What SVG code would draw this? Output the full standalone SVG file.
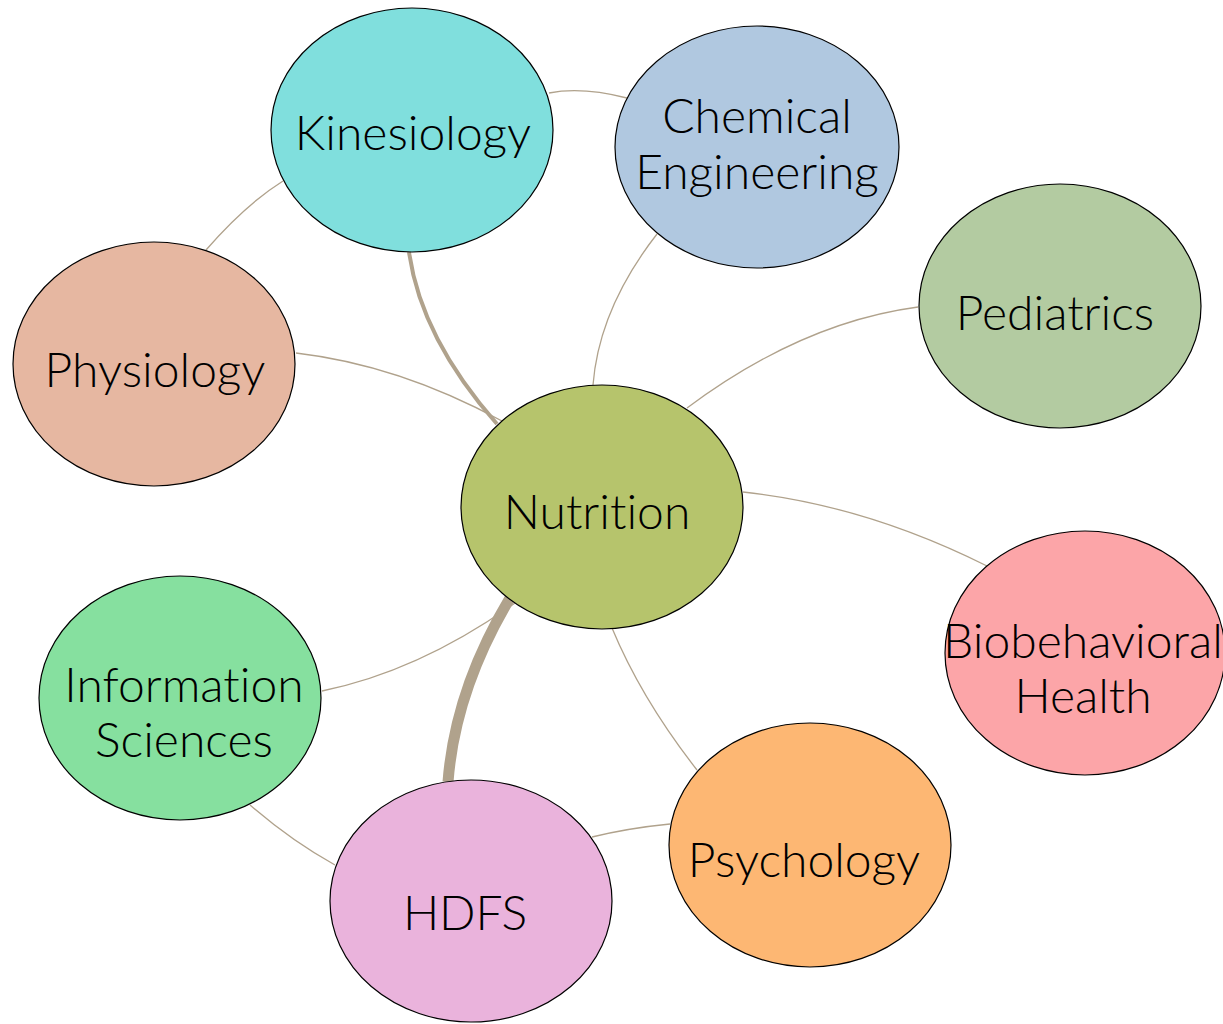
<svg xmlns="http://www.w3.org/2000/svg" width="1223" height="1024" viewBox="0 0 1223 1024">
<style>
.e{stroke:#000;stroke-width:1.2}
.t{font-family:Lato,"Noto Sans",sans-serif;font-size:48px;font-weight:300;fill:#000;text-anchor:middle;font-variant-ligatures:none}
.c{fill:none;stroke:#b0a28c;stroke-width:1.3}
.w4{stroke-width:4}
.w11{stroke-width:11}
</style>
<rect width="1223" height="1024" fill="#fff"/>
<g id="connectors">
<path class="c" d="M549,93 Q582,86.5 627,98"/>
<path class="c" d="M283,181 Q245.5,204.5 206,250"/>
<path class="c w4" d="M409,252 Q421,338 497,424"/>
<path class="c" d="M657,234 Q599,308.5 593,385"/>
<path class="c" d="M296,353 Q399,365 502,421"/>
<path class="c" d="M918,307 Q801.5,322.5 687,408"/>
<path class="c" d="M743,492 Q865,505 987,566"/>
<path class="c" d="M322,691 Q419.5,671 515,603"/>
<path class="c w11" d="M510,598 Q455,690 448,782"/>
<path class="c" d="M612,628 Q641.5,699 697,770"/>
<path class="c" d="M250,805 Q291.5,841 335,865"/>
<path class="c" d="M592,837 Q629,828 670,824"/>
</g>
<g id="kinesiology"><ellipse class="e" cx="412" cy="130" rx="141" ry="122" fill="#80dfdd"/><text class="t" x="413" y="150">Kinesiology</text></g>
<g id="chemical-engineering"><ellipse class="e" cx="757" cy="147" rx="142" ry="121" fill="#b0c8e0"/><text class="t" x="757" y="133">Chemical</text><text class="t" x="757" y="189">Engineering</text></g>
<g id="pediatrics"><ellipse class="e" cx="1060" cy="306" rx="141" ry="122" fill="#b3cba1"/><text class="t" x="1055" y="330">Pediatrics</text></g>
<g id="physiology"><ellipse class="e" cx="154" cy="364" rx="141" ry="122" fill="#e6b7a1"/><text class="t" x="155" y="387">Physiology</text></g>
<g id="nutrition"><ellipse class="e" cx="602" cy="507" rx="141" ry="122" fill="#b6c46c"/><text class="t" x="597" y="529">Nutrition</text></g>
<g id="biobehavioral-health"><ellipse class="e" cx="1085" cy="653" rx="140" ry="122" fill="#fca5a8"/><text class="t" x="1083" y="658">Biobehavioral</text><text class="t" x="1083" y="713">Health</text></g>
<g id="information-sciences"><ellipse class="e" cx="180" cy="698" rx="141" ry="122" fill="#86e09f"/><text class="t" x="184" y="702">Information</text><text class="t" x="184" y="757">Sciences</text></g>
<g id="hdfs"><ellipse class="e" cx="471" cy="901" rx="141" ry="121" fill="#eab3dc"/><text class="t" x="465" y="930">HDFS</text></g>
<g id="psychology"><ellipse class="e" cx="810" cy="845" rx="141" ry="122" fill="#fdb773"/><text class="t" x="804" y="877">Psychology</text></g>
</svg>
